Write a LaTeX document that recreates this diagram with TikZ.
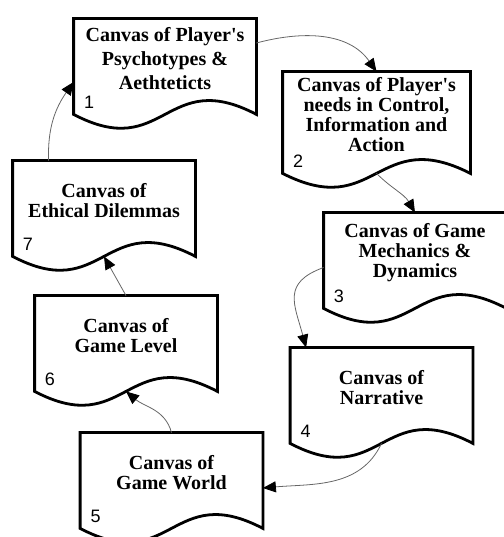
\documentclass[tikz,border=0pt]{standalone}
\usepackage{fontspec}
\usepackage{tikz}
\usetikzlibrary{arrows.meta,calc,positioning}
\newfontfamily\canvasfont{Liberation Serif}
\newfontfamily\numberfont{Liberation Sans}
\tikzset{
    canvas-box/.style = {rectangle, inner sep=0pt, minimum width=91pt, minimum height=39.5pt, align=center,
        font=\canvasfont\bfseries\fontsize{10}{10}\selectfont,
        append after command={\pgfextra{\draw[line width=1.4pt]
            ($(\tikzlastnode.south east)+(0,-8pt)$)
            .. controls ($(\tikzlastnode.south)+(0,16pt)$) and ($(\tikzlastnode.south)+(0,-32pt)$) ..
            ($(\tikzlastnode.south west)+(0,-8pt)$) -- (\tikzlastnode.north west)
            -- (\tikzlastnode.north east) -- cycle;}}},
    canvas-number/.style = {inner sep=0pt, font=\numberfont\fontsize{9}{9}\selectfont},
    canvas-arrow/.style = {draw=black!60, line width=0.4pt, -{Triangle[length=6.5pt, width=5.5pt, color=black]}},
}

\begin{document}
\begin{tikzpicture}[x=0.5pt, y=0.5pt]
\useasboundingbox (0,0) rectangle (504,537);

% the seven canvases
\node [canvas-box, font=\canvasfont\bfseries\fontsize{10}{12}\selectfont] (b1) at (165,478.5)
    {Canvas of Player\textquotesingle s\\Psychotypes \&\\Aethteticts};
\node [canvas-box, minimum width=93.5pt, minimum height=42.5pt] (b2) at (376.5,422.5)
    {Canvas of Player\textquotesingle s\\needs in Control,\\Information and\\Action};
\node [canvas-box] (b3) at (415,284.5) {Canvas of Game\\Mechanics \&\\Dynamics};
\node [canvas-box] (b4) at (381.5,149.5) {Canvas of\\Narrative};
\node [canvas-box] (b5) at (171.5,64.5) {Canvas of\\Game World};
\node [canvas-box] (b6) at (126,201.5) {Canvas of\\Game Level};
\node [canvas-box] (b7) at (104,336.5) {Canvas of\\Ethical Dilemmas};

\node[canvas-number, right=5pt] (n1) at ([yshift=-2pt]b1.south west) {1};
\node[canvas-number, right=5pt] (n2) at ([yshift=-2pt]b2.south west) {2};
\node[canvas-number, right=5pt] (n3) at ([yshift=-2pt]b3.south west) {3};
\node[canvas-number, right=5pt] (n4) at ([yshift=-2pt]b4.south west) {4};
\node[canvas-number, right=5pt] (n5) at ([yshift=-2pt]b5.south west) {5};
\node[canvas-number, right=5pt] (n6) at ([yshift=-2pt]b6.south west) {6};
\node[canvas-number, right=5pt] (n7) at ([yshift=-2pt]b7.south west) {7};

% middle of the wavy bottoms
\coordinate (w2) at ($(b2.south)+(0,-8pt)$);
\coordinate (w4) at ($(b4.south)+(0,-8pt)$);
\coordinate (w6) at ($(b6.south)+(0,-8pt)$);
\coordinate (w7) at ($(b7.south)+(0,-8pt)$);

% the cycle
\draw[canvas-arrow] ([yshift=7.75pt]b1.east) to[out=15, in=125] (b2.north);
\draw[canvas-arrow] (w2) to[out=-45, in=120] (b3.north);
\draw[canvas-arrow] ([yshift=-7.5pt]b3.west) to[out=200, in=105, looseness=1.4] ([xshift=8pt]b4.north west);
\draw[canvas-arrow] (w4) to[out=-115, in=5] ([yshift=-7.75pt]b5.east);
\draw[canvas-arrow] (b5.north) to[out=105, in=-40] (w6);
\draw[canvas-arrow] (b6.north) -- (w7);
\draw[canvas-arrow] ([xshift=18pt]b7.north west) to[out=92, in=-125] ([yshift=-11.75pt]b1.west);
\end{tikzpicture}
\end{document}
